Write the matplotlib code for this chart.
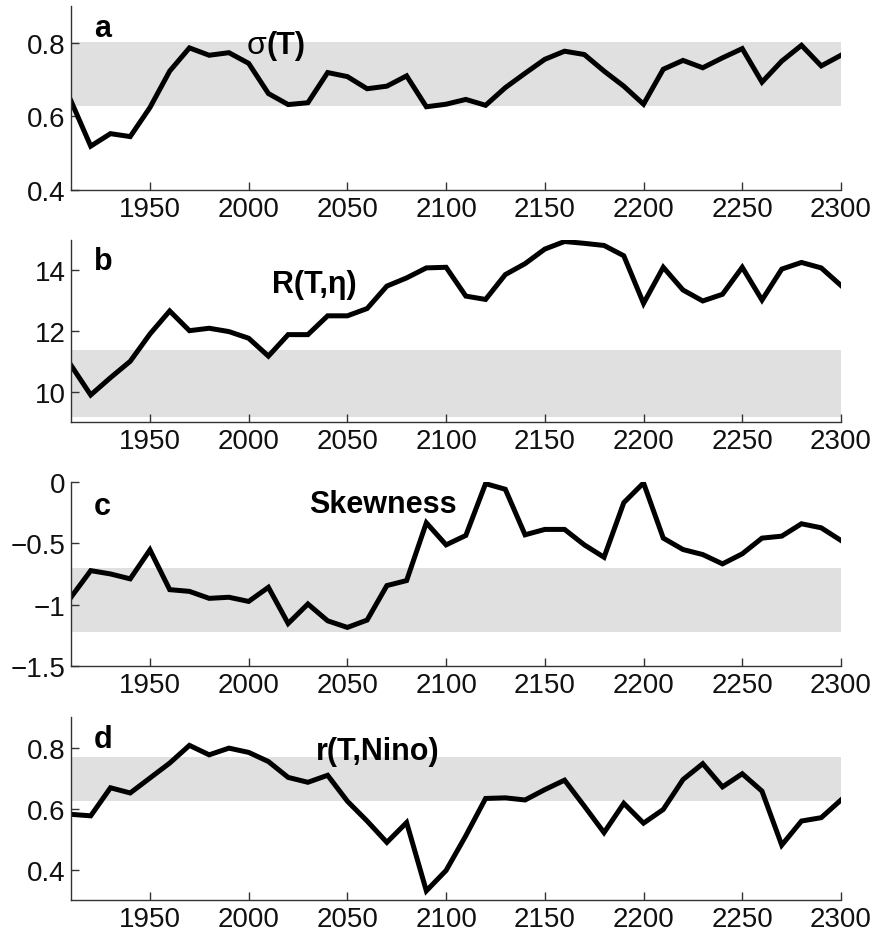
import numpy as np
from matplotlib import pyplot as plt

plt.rcParams["font.family"] = ["Liberation Sans", "DejaVu Sans"]

years = np.arange(1910, 2301, 10)

sigma_t = [0.642, 0.519, 0.553, 0.545, 0.624, 0.723, 0.786, 0.766, 0.773, 0.744,
           0.662, 0.632, 0.637, 0.719, 0.708, 0.675, 0.682, 0.710, 0.626, 0.633,
           0.646, 0.630, 0.678, 0.717, 0.755, 0.777, 0.768, 0.723, 0.682, 0.633,
           0.728, 0.752, 0.732, 0.759, 0.784, 0.693, 0.750, 0.793, 0.737, 0.766]

r_t_eta = [10.87, 9.89, 10.46, 11.00, 11.90, 12.66, 12.01, 12.09, 11.98, 11.76,
           11.17, 11.88, 11.88, 12.50, 12.50, 12.74, 13.48, 13.75, 14.08, 14.10,
           13.15, 13.04, 13.86, 14.22, 14.70, 14.95, 14.89, 14.82, 14.48, 12.91,
           14.10, 13.35, 12.99, 13.21, 14.10, 13.02, 14.04, 14.26, 14.08, 13.50]

skewness = [-0.94, -0.723, -0.75, -0.79, -0.554, -0.878, -0.892, -0.949, -0.94, -0.974,
            -0.859, -1.154, -0.995, -1.132, -1.186, -1.126, -0.845, -0.804, -0.333, -0.513,
            -0.436, -0.014, -0.06, -0.431, -0.387, -0.387, -0.513, -0.614, -0.169, -0.008,
            -0.458, -0.551, -0.592, -0.668, -0.586, -0.458, -0.442, -0.341, -0.374, -0.477]

r_t_nino = [0.581, 0.576, 0.668, 0.651, 0.700, 0.749, 0.807, 0.776, 0.798, 0.784,
            0.754, 0.702, 0.686, 0.709, 0.624, 0.559, 0.489, 0.554, 0.330, 0.397,
            0.511, 0.633, 0.635, 0.628, 0.662, 0.693, 0.608, 0.521, 0.617, 0.552,
            0.597, 0.695, 0.747, 0.671, 0.714, 0.657, 0.480, 0.559, 0.570, 0.628]

series = [sigma_t, r_t_eta, skewness, r_t_nino]
bands = [(0.627, 0.803), (9.18, 11.36), (-1.227, -0.704), (0.624, 0.769)]
ylims = [(0.4, 0.9), (9, 15), (-1.5, 0), (0.3, 0.9)]
yticks = [[0.4, 0.6, 0.8], [10, 12, 14], [-1.5, -1, -0.5, 0], [0.4, 0.6, 0.8]]
yticklabels = [["0.4", "0.6", "0.8"], ["10", "12", "14"],
               ["\u22121.5", "\u22121", "\u22120.5", "0"], ["0.4", "0.6", "0.8"]]
xticks = [1950, 2000, 2050, 2100, 2150, 2200, 2250, 2300]
letters = ["a", "b", "c", "d"]
titles = [None, "R(T,\u03b7)", "Skewness", "r(T,Nino)"]
letter_y = [0.878, 0.885, 0.87, 0.88]
title_pos = [(0.228, 0.785), (0.261, 0.76), (0.309, 0.88), (0.318, 0.814)]

# axes boxes in figure fractions: left, bottom, width, height
boxes = [(0.0813, 0.7962, 0.882, 0.1964),
         (0.0813, 0.5486, 0.882, 0.1942),
         (0.0813, 0.2882, 0.882, 0.1964),
         (0.0813, 0.0384, 0.882, 0.1953)]

fig = plt.figure(figsize=(8.73, 9.37), dpi=100)
for i in range(4):
    ax = fig.add_axes(boxes[i])
    ax.axhspan(bands[i][0], bands[i][1], xmin=0, xmax=1, color="#e0e0e0", lw=0, zorder=0)
    ax.plot(years, series[i], color="black", lw=3.6, solid_joinstyle="miter", zorder=2)
    ax.set_xlim(1910, 2300)
    ax.set_ylim(*ylims[i])
    ax.set_xticks(xticks)
    ax.set_yticks(yticks[i])
    ax.set_yticklabels(yticklabels[i])
    for side in ["top", "right"]:
        ax.spines[side].set_visible(False)
    for side in ["left", "bottom"]:
        ax.spines[side].set_color("#333333")
        ax.spines[side].set_linewidth(1.0)
    ax.tick_params(direction="in", length=6, width=1, colors="#333333",
                   labelcolor="#111111", labelsize=20, pad=4)
    ax.text(0.03, letter_y[i], letters[i], transform=ax.transAxes, fontsize=22,
            fontweight="bold", va="center", ha="left")
    tx, ty = title_pos[i]
    if titles[i] is None:
        # sigma in regular weight, (T) in bold
        sig = ax.text(tx, ty, "\u03c3", transform=ax.transAxes, fontsize=23,
                      va="center", ha="left")
        ax.annotate("(T)", xy=(1.0, 0.5), xycoords=sig, fontsize=22,
                    fontweight="bold", va="center", ha="left")
    else:
        ax.text(tx, ty, titles[i], transform=ax.transAxes, fontsize=22,
                fontweight="bold", va="center", ha="left")

fig.savefig("out.png", dpi=100)
